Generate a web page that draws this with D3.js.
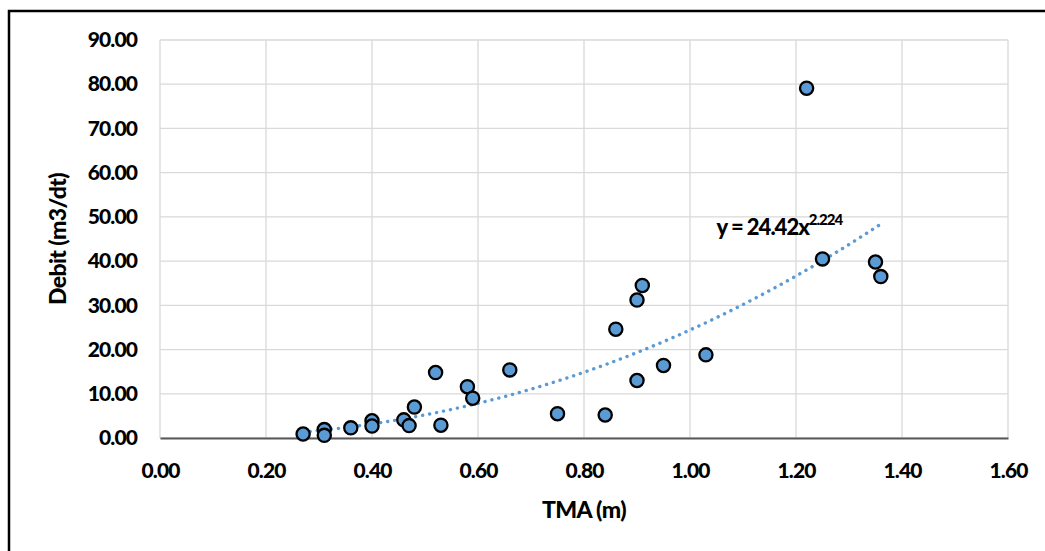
<!DOCTYPE html>
<html>
<head>
	<meta charset="utf-8">
	<script src="https://cdn.jsdelivr.net/npm/d3@7"></script>
</head>
<style type="text/css">
	body { margin:0; background:#fff; }
	text { font-family: Lato, "Open Sans", sans-serif; font-weight: 900; fill:#000; }
</style>
<body>
</body>
</html>
<script type="text/javascript">
	// TMA (m) vs Debit (m3/dt)
	var tma   = [0.27, 0.31, 0.31, 0.36, 0.40, 0.40, 0.46, 0.47, 0.48, 0.52, 0.53, 0.58, 0.59,
	             0.66, 0.75, 0.84, 0.86, 0.90, 0.91, 0.90, 0.95, 1.03, 1.22, 1.25, 1.35, 1.36];
	var debit = [0.9, 1.9, 0.6, 2.3, 3.9, 2.7, 4.1, 2.8, 7.0, 14.8, 2.9, 11.6, 9.0,
	             15.4, 5.5, 5.2, 24.6, 31.2, 34.5, 13.0, 16.4, 18.8, 79.1, 40.5, 39.8, 36.5];
	var xTicks = [0, 0.2, 0.4, 0.6, 0.8, 1.0, 1.2, 1.4, 1.6];
	var yTicks = [0, 10, 20, 30, 40, 50, 60, 70, 80, 90];
	// power trendline shown on chart: y = 24.42 x^2.224
	var trendA = 24.42, trendB = 2.224;

	var width = 1045, height = 551;
	var margin = {left:160, right:37, top:40, bottom:113};
	var w = width - margin.left - margin.right;
	var h = height - margin.top - margin.bottom;

	var svg = d3.select("body").append("svg").attr("width", width).attr("height", height);

	// outer frame (left + top edges visible)
	svg.append("path").attr("d", "M9,551 L9,11 L1045,11")
		.attr("fill", "none").attr("stroke", "#000").attr("stroke-width", 2.5);

	var x = d3.scaleLinear().domain([0, 1.6]).range([0, w]);
	var y = d3.scaleLinear().domain([0, 90]).range([h, 0]);
	var g = svg.append("g").attr("transform", "translate(" + margin.left + "," + margin.top + ")");

	// gridlines
	g.selectAll(".gx").data(xTicks).enter().append("line")
		.attr("x1", function(d){return x(d)}).attr("x2", function(d){return x(d)})
		.attr("y1", 0).attr("y2", h).attr("stroke", "#d9d9d9").attr("stroke-width", 1.3);
	g.selectAll(".gy").data(yTicks).enter().append("line")
		.attr("x1", 0).attr("x2", w)
		.attr("y1", function(d){return y(d)}).attr("y2", function(d){return y(d)})
		.attr("stroke", "#d9d9d9").attr("stroke-width", 1.3);

	// axes
	var xAxis = g.append("g").attr("transform", "translate(0," + h + ")")
		.call(d3.axisBottom(x).tickValues(xTicks).tickSize(0).tickPadding(25).tickFormat(d3.format(".2f")));
	xAxis.select(".domain").attr("stroke", "#595959").attr("stroke-width", 2);
	xAxis.selectAll("text").style("font-size", "21px").attr("letter-spacing", "-0.9");

	var yAxis = g.append("g")
		.call(d3.axisLeft(y).tickValues(yTicks).tickSize(0).tickPadding(23).tickFormat(d3.format(".2f")));
	yAxis.select(".domain").remove();
	yAxis.selectAll("text").style("font-size", "21px").attr("letter-spacing", "-0.9");

	// trendline
	var tx = d3.range(d3.min(tma), d3.max(tma) + 0.0001, 0.01);
	var line = d3.line().x(function(d){return x(d)}).y(function(d){return y(trendA * Math.pow(d, trendB))});
	g.append("path").datum(tx).attr("d", line)
		.attr("fill", "none").attr("stroke", "#5b9bd5").attr("stroke-width", 3.4)
		.attr("stroke-linecap", "round").attr("stroke-dasharray", "0.1,7");

	// points
	g.selectAll("circle").data(tma).enter().append("circle")
		.attr("cx", function(d){return x(d)})
		.attr("cy", function(d, i){return y(debit[i])})
		.attr("r", 6.6)
		.attr("fill", "#5b9bd5").attr("stroke", "#000").attr("stroke-width", 2.3);

	// equation label
	var eq = g.append("text").attr("x", x(1.05)).attr("y", y(0) - 203)
		.style("font-size", "22px").attr("letter-spacing", "-1");
	eq.append("tspan").text("y = 24.42x");
	eq.append("tspan").attr("dy", -10).style("font-size", "15px").text("2.224");

	// axis titles
	g.append("text").attr("x", w / 2).attr("y", h + 80)
		.style("text-anchor", "middle").style("font-size", "23px").attr("letter-spacing", "-0.6").text("TMA (m)");
	g.append("text").attr("transform", "translate(" + (58 - margin.left + 8) + "," + (239 - margin.top) + ") rotate(-90)")
		.style("text-anchor", "middle").style("font-size", "23px").attr("letter-spacing", "-0.6").text("Debit (m3/dt)");
</script>
